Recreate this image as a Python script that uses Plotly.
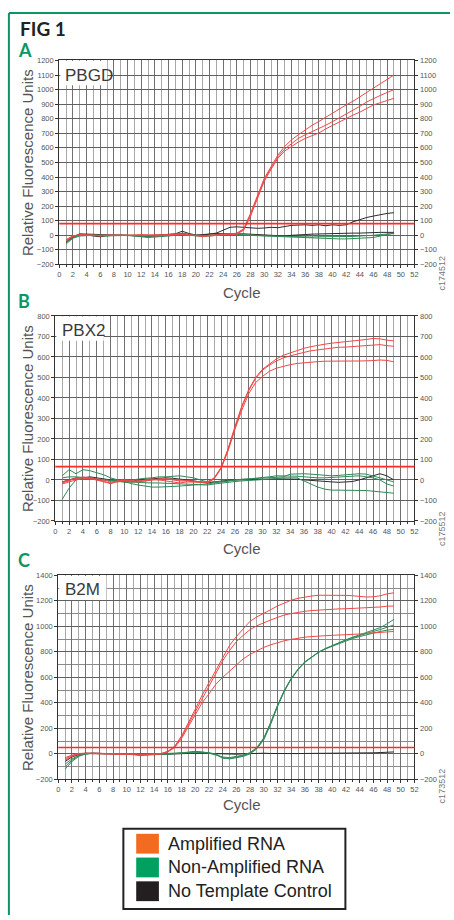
import plotly.graph_objects as go

W, H = 454, 920

cycles = list(range(1, 50))
x_ticks = list(range(0, 53, 2))

# ---------------- Panel A : PBGD ----------------
A_red1 = [-40, -8, 5, 2, 0, -5, 0, 2, 0, -3,
          0, 5, 0, -5, 0, 5, 10, 5, 0, -5,
          -5, 0, 5, 5, 8, 15,
          45, 150, 270, 390, 470, 550, 610,
          655, 690, 725, 755, 781, 810, 838, 865, 895, 920, 950, 980, 1010, 1040, 1070, 1100]
A_red2 = [-35, -5, 3, 0, 2, -2, 0, 0, 2, 0,
          -3, 0, 3, 0, 2, 3, 5, 8, 2, 0,
          -8, -3, 0, 3, 5, 10,
          40, 140, 262, 380, 460, 538, 592,
          630, 665, 690, 710, 730, 755, 780, 805, 835, 860, 885, 915, 940, 960, 980, 1000]
A_red3 = [-30, -3, 0, 3, 0, 0, -3, 0, 0, 0,
          0, -3, 0, 0, 3, 0, 3, 5, 0, -3,
          -5, 0, 2, 0, 3, 8,
          35, 130, 250, 370, 452, 528, 578,
          610, 640, 665, 685, 702, 730, 755, 780, 805, 825, 845, 870, 895, 910, 925, 940]
A_black1 = [-45, -10, 10, 8, 5, 3, 0, 2, 0, -3,
            -5, -5, -3, 0, 2, 5, 10, 28, 12, 2,
            0, 8, 15, 35, 55, 58, 55, 50, 48, 50,
            55, 52, 60, 68, 70, 72, 68, 72, 65, 72,
            68, 72, 92, 108, 122, 132, 142, 150, 155]
A_black2 = [-50, -15, 0, 2, -5, -10, -3, 0, -2, 0,
            0, -8, -10, -5, 0, 0, 5, 10, 5, 0,
            5, 10, 12, 10, 8, 10, 10, 8, 5, 2,
            0, -5, -5, 0, 5, 5, 8, 10, 10, 12,
            12, 15, 15, 15, 18, 18, 20, 20, 20]
A_green1 = [-60, -20, -5, 0, 0, 2, 0, -2, 0, 0,
            -3, -8, -10, -8, -5, 0, 5, 15, 5, 0,
            -3, 0, 5, 8, 5, 3, 0, 0, -5, -8,
            -10, -12, -12, -15, -18, -20, -18, -20, -22, -25,
            -25, -25, -22, -20, -18, -15, -5, 5, 15]
A_green2 = [-50, -15, 0, 3, 0, -3, -5, 0, 3, 0,
            -5, -10, -15, -12, -10, -5, 0, 5, 0, -5,
            -8, -5, 0, 5, 8, 5, 5, 3, 0, -3,
            -5, -5, -8, -10, -10, -12, -12, -10, -10, -12,
            -12, -10, -8, -5, -5, 0, 5, 10, 12]
A_threshold = 80

# ---------------- Panel B : PBX2 ----------------
B_red1 = [-15, -5, 10, 10, 5, 0, -5, -20, -5, 0,
          -5, -8, -5, 0, 5, 5, 0, -5, -5, -8,
          -10, -10, 10, 60,
          150, 260, 360, 440, 500, 540, 565, 590, 608, 620,
          632, 642, 650, 657, 662, 667, 670, 673, 676, 680, 685, 690, 688, 682, 678]
B_red2 = [-10, 0, 5, 15, 10, 5, 0, -10, -5, -3,
          -8, -10, -5, 0, 0, 5, 3, 0, -3, -5,
          -8, -12, 8, 58,
          148, 255, 355, 435, 495, 535, 560, 580, 595, 605,
          615, 622, 630, 635, 640, 645, 647, 648, 650, 652, 655, 658, 660, 655, 652]
B_red3 = [-20, -10, 0, 5, 5, 0, -10, -15, -10, -5,
          -5, -5, 0, 5, 0, -5, -10, -15, -10, -10,
          -12, -15, 5, 55,
          140, 245, 340, 420, 475, 505, 530, 545, 555, 562,
          568, 572, 575, 577, 579, 580, 580, 580, 580, 580, 580, 582, 585, 583, 576]
B_green1 = [-95, -40, 0, 10, 10, 5, 0, -5, -8, -10,
            -12, -13, -14, -15, -15, -16, -17, -18, -19, -20,
            -22, -25, -20, -15, -10, -8, -5, -3, -2, 0,
            3, 6, 10, 10, 10, -5, -20, -35, -45, -50,
            -50, -50, -50, -50, -52, -55, -58, -60, -65]
B_green2 = [20, 50, 30, 50, 45, 35, 25, 10, 0, -10,
            -18, -25, -30, -35, -35, -35, -32, -30, -28, -25,
            -22, -20, -15, -10, -5, 0, 3, 5, 8, 10,
            15, 20, 20, 20, 18, 15, 12, 10, 10, 12,
            15, 18, 20, 20, 15, 10, 0, -20, -30]
B_green3 = [10, 15, 15, 12, 10, 5, 0, 0, -3, -5,
            0, 5, 8, 10, 15, 15, 18, 20, 15, 10,
            0, -10, -10, -8, -5, 0, 2, 5, 5, 8,
            10, 12, 15, 28, 30, 30, 28, 25, 22, 20,
            22, 25, 28, 30, 28, 20, 10, 0, -10]
B_black = [-10, 0, 10, 10, 15, 10, 5, 0, -5, -10,
           -8, 0, 3, 5, 8, 10, 8, 5, 0, -5,
           -10, -15, -10, -5, -2, 0, 0, 0, 0, 0,
           3, 5, 5, 5, 3, 0, -3, -5, -8, -10,
           -12, -10, -8, 0, 10, 20, 30, 20, 0]
B_threshold = 65

# ---------------- Panel C : B2M ----------------
C_red1 = [-50, -20, 0, 5, 3, 5, 0, 0, -3, 0,
          -5, -15, -5, -3, 0, 20,
          60, 140, 240, 350, 460, 560, 660, 760, 850, 920,
          980, 1040, 1075, 1100, 1130, 1160, 1185, 1205, 1220, 1230,
          1238, 1244, 1245, 1245, 1245, 1243, 1240, 1235, 1230, 1232, 1240, 1255, 1263]
C_red2 = [-40, -15, 0, 3, 5, 3, 0, 3, 0, -3,
          -3, -10, -3, 0, 2, 18,
          55, 130, 230, 330, 440, 540, 640, 730, 810, 880,
          930, 975, 1005, 1030, 1050, 1070, 1089, 1100, 1110, 1118,
          1124, 1128, 1132, 1135, 1137, 1138, 1140, 1142, 1145, 1148, 1152, 1158, 1160]
C_red3 = [-30, -10, 3, 5, 0, 0, 3, 0, -3, 0,
          0, -5, -8, -3, 0, 15,
          50, 120, 210, 300, 400, 470, 545, 600, 650, 700,
          745, 780, 810, 835, 855, 872, 887, 898, 908, 915,
          920, 925, 928, 930, 932, 933, 935, 940, 945, 948, 950, 955, 960]
C_green1 = [-120, -60, -20, 0, 5, 3, 0, 0, 3, 0,
            -3, -5, -3, 0, 0, -5, 0, 5, 15, 20,
            15, 10, 0, -30, -40, -30, -20, 0, 40, 110,
            230, 370, 490, 585, 660, 718, 760, 796, 825, 850,
            870, 895, 915, 935, 950, 970, 990, 1020, 1055]
C_green2 = [-100, -50, -15, 0, 3, 5, 3, 0, 0, 3,
            0, -5, -5, -3, 0, 0, 3, 8, 12, 15,
            12, 8, -5, -35, -35, -25, -15, 5, 45, 120,
            240, 375, 495, 590, 662, 720, 762, 798, 826, 850,
            872, 893, 912, 930, 945, 960, 975, 995, 1011]
C_green3 = [-80, -40, -10, 0, 5, 0, 0, 3, 0, 0,
            -3, -3, 0, 0, 3, 5, 5, 10, 10, 12,
            10, 5, -10, -25, -30, -20, -10, 10, 50, 125,
            245, 380, 498, 592, 665, 722, 763, 797, 823, 845,
            866, 887, 905, 920, 935, 950, 960, 970, 977]
C_black = [-60, -25, -5, 5, 5, 3, 0, 0, 0, 0,
           -3, -10, -8, -5, 0, 0, 2, 3, 5, 5,
           5, 3, 0, -5, -5, -3, 0, 2, 5, 5,
           3, 2, 0, 0, 2, 3, 3, 5, 5, 5,
           5, 8, 8, 5, 5, 8, 10, 12, 15]
C_threshold = 50

panel_letters = ["A", "B", "C"]
gene_names = ["PBGD", "PBX2", "B2M"]
codes = ["c174512", "c175512", "c173512"]
y_ranges = [(-200, 1200), (-200, 800), (-200, 1400)]
y_dticks = [100, 100, 200]
legend_labels = ["Amplified RNA", "Non-Amplified RNA", "No Template Control"]
legend_colors = ["#f26b21", "#00a060", "#231f20"]

RED = "#f04848"
GREEN = "#2f8a58"
BLACK = "#2a2a2a"
THRESH = "#ff2a2a"
BORDER = "#0d9563"

panels = [
    dict(red=[A_red1, A_red2, A_red3], green=[A_green1, A_green2], black=[A_black2, A_black1], thr=A_threshold),
    dict(red=[B_red1, B_red2, B_red3], green=[B_green1, B_green2, B_green3], black=[B_black], thr=B_threshold),
    dict(red=[C_red1, C_red2, C_red3], green=[C_green1, C_green2, C_green3], black=[C_black], thr=C_threshold),
]

# pixel boxes of the plot areas (left, right, top, bottom)
boxes = [(58, 418, 57, 263), (54, 418, 315, 522), (57, 418, 577, 783)]
letter_y = [46, 300, 561]
cycle_y = [291, 550, 808]
code_y = [272, 530, 790]


def px(x):
    return x / W


def py(y):
    return 1 - y / H


fig = go.Figure()
layout = {}
shapes = []
annotations = []

SANS = "Liberation Sans, Arial"
tickfont = dict(family=SANS, size=7.5, color="#555")


def note(text, x, y, size, color, family=SANS, angle=0, xanchor="center", yanchor="middle", **kw):
    d = dict(text=text, x=x, y=y, xanchor=xanchor, yanchor=yanchor, textangle=angle, showarrow=False,
             font=dict(family=family, size=size, color=color))
    d.setdefault("xref", "paper")
    d.setdefault("yref", "paper")
    d.update(kw)
    return d


for i, p in enumerate(panels):
    n = i + 1
    xa = "x" if n == 1 else f"x{n}"
    ya = "y" if n == 1 else f"y{n}"
    ya_r = f"y{n + 3}"
    l, r, t, b = boxes[i]
    ymin, ymax = y_ranges[i]

    for series in p["black"]:
        fig.add_trace(go.Scatter(x=cycles, y=series, mode="lines", line=dict(color=BLACK, width=1),
                                 xaxis=xa, yaxis=ya, showlegend=False, hoverinfo="skip"))
    for series in p["green"]:
        fig.add_trace(go.Scatter(x=cycles, y=series, mode="lines", line=dict(color=GREEN, width=1),
                                 xaxis=xa, yaxis=ya, showlegend=False, hoverinfo="skip"))
    for series in p["red"]:
        fig.add_trace(go.Scatter(x=cycles, y=series, mode="lines", line=dict(color=RED, width=1),
                                 xaxis=xa, yaxis=ya, showlegend=False, hoverinfo="skip"))
    # placeholder trace so the mirrored right axis is drawn
    fig.add_trace(go.Scatter(x=[None], y=[None], xaxis=xa, yaxis=ya_r, showlegend=False, hoverinfo="skip"))

    xkey = "xaxis" if n == 1 else f"xaxis{n}"
    ykey = "yaxis" if n == 1 else f"yaxis{n}"
    layout[xkey] = dict(
        domain=[px(l), px(r)], anchor=ya, range=[0, 52], tickmode="array", tickvals=x_ticks,
        showgrid=True, gridcolor="#707070", gridwidth=1,
        minor=dict(dtick=1, tick0=1, showgrid=True, gridcolor="#a8a8a8", ticks="outside", ticklen=2, tickcolor="#333"),
        ticks="outside", ticklen=3, tickcolor="#333", tickfont=tickfont,
        showline=True, linecolor="#333", linewidth=1, mirror=True, zeroline=False, fixedrange=True,
    )
    layout[ykey] = dict(
        domain=[py(b), py(t)], anchor=xa, range=[ymin, ymax], dtick=y_dticks[i], tick0=0,
        showgrid=True, gridcolor="#606060", gridwidth=1,
        ticks="outside", ticklen=3, tickcolor="#333", tickfont=tickfont,
        showline=True, linecolor="#333", linewidth=1, zeroline=False, fixedrange=True,
    )
    if y_dticks[i] == 200:
        layout[ykey]["minor"] = dict(dtick=100, showgrid=True, gridcolor="#8a8a8a")
    layout[f"yaxis{n + 3}"] = dict(
        overlaying=ya, anchor=xa, side="right", range=[ymin, ymax], dtick=y_dticks[i], tick0=0,
        showgrid=False, ticks="outside", ticklen=3, tickcolor="#333", tickfont=tickfont,
        showline=True, linecolor="#333", linewidth=1, zeroline=False, fixedrange=True,
    )

    # threshold line
    shapes.append(dict(type="line", xref=f"{xa} domain", yref=ya, x0=0, x1=1, y0=p["thr"], y1=p["thr"],
                       line=dict(color=THRESH, width=1.6), layer="above"))
    # white label box
    shapes.append(dict(type="rect", xref=f"{xa} domain", yref=f"{ya} domain", x0=0.003, x1=0.135,
                       y0=1 - 25 / (b - t), y1=0.997, fillcolor="white", line=dict(width=0), layer="above"))
    annotations.append(note(gene_names[i], 0.012, 0.985, 17, "#3a3a3a", xanchor="left", yanchor="top",
                            xref=f"{xa} domain", yref=f"{ya} domain"))
    # axis titles
    annotations.append(note("Relative Fluorescence Units", px(26), py((t + b) / 2), 15, "#555", angle=-90))
    annotations.append(note("Cycle", px(243), py(cycle_y[i]), 15, "#555"))
    annotations.append(note(codes[i], px(446), py(code_y[i]), 9, "#777", angle=-90))
    annotations.append(note("<b>" + panel_letters[i] + "</b>", px(14), py(letter_y[i]), 18, BORDER,
                            family="Lato, Open Sans", xanchor="left"))

annotations.append(note("<b>FIG 1</b>", px(16), py(25), 19, "#222", family="Lato, Open Sans", xanchor="left"))

# green frame (top and left)
shapes.append(dict(type="line", xref="paper", yref="paper", x0=px(7), x1=1.0, y0=py(9), y1=py(9),
                   line=dict(color=BORDER, width=2)))
shapes.append(dict(type="line", xref="paper", yref="paper", x0=px(7), x1=px(7), y0=py(9), y1=0,
                   line=dict(color=BORDER, width=2)))

# legend box
shapes.append(dict(type="rect", xref="paper", yref="paper", x0=px(123), x1=px(348), y0=py(914), y1=py(833),
                   line=dict(color="#222", width=2), fillcolor="white"))
row_y = [848, 872, 896]
for lab, col, yy in zip(legend_labels, legend_colors, row_y):
    shapes.append(dict(type="rect", xref="paper", yref="paper", x0=px(136), x1=px(159), y0=py(yy + 10), y1=py(yy - 10),
                       line=dict(width=0), fillcolor=col))
    annotations.append(note(lab, px(166), py(yy), 18, "#222", xanchor="left"))

fig.update_layout(
    width=W, height=H, margin=dict(l=0, r=0, t=0, b=0),
    paper_bgcolor="white", plot_bgcolor="white", showlegend=False,
    shapes=shapes, annotations=annotations, **layout,
)

fig.write_html("out.html", config={"displayModeBar": False},
               post_script="document.body.style.margin='0';document.body.style.overflow='hidden';")
